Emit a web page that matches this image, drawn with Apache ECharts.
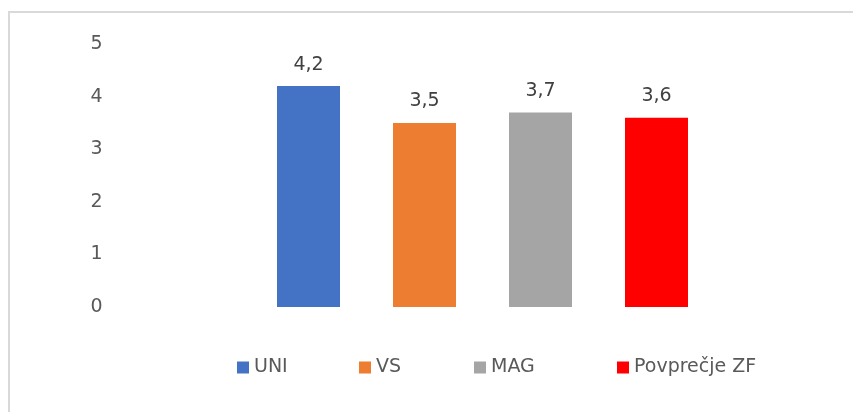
<!DOCTYPE html>
<html>
<head>
<meta charset="utf-8">
<script src="https://cdn.jsdelivr.net/npm/echarts@6/dist/echarts.min.js"></script>
<style>
  html, body { margin: 0; padding: 0; background: #fff; }
  #chart { width: 853px; height: 412px; }
</style>
</head>
<body>
<div id="chart"></div>
<script>
// data
var categories = ['UNI', 'VS', 'MAG', 'Povprečje ZF'];
var values = [4.2, 3.5, 3.7, 3.6];
var colors = ['#4472c4', '#ed7d31', '#a5a5a5', '#ff0000'];
var yTicks = [0, 1, 2, 3, 4, 5];

// legend entries are spaced like the original (Excel) layout
var legendLeft = [232, 354, 469, 612];

var myChart = echarts.init(document.getElementById('chart'));

var series = categories.map(function (name, i) {
    var d = categories.map(function (c, j) { return j === i ? values[i] : '-'; });
    return {
        name: name,
        type: 'bar',
        stack: 'all',
        barWidth: 63,
        itemStyle: { color: colors[i] },
        label: {
            show: true,
            position: 'top',
            distance: 12,
            color: '#404040',
            fontSize: 19,
            fontFamily: 'DejaVu Sans',
            formatter: function (p) { return String(p.value).replace('.', ','); }
        },
        data: d
    };
});

var legends = categories.map(function (name, i) {
    return {
        left: legendLeft[i],
        top: 353,
        icon: 'rect',
        itemWidth: 12,
        itemHeight: 12,
        itemGap: 6,
        textStyle: { color: '#595959', fontSize: 19, fontFamily: 'DejaVu Sans' },
        data: [name]
    };
});

var option = {
    animation: false,
    graphic: [{
        type: 'rect',
        shape: { x: 9, y: 12, width: 1000, height: 1000 },
        style: { fill: 'none', stroke: '#d9d9d9', lineWidth: 2 }
    }],
    legend: legends,
    grid: { left: 250.5, right: 138.5, top: 44, bottom: 105 },
    xAxis: {
        type: 'category',
        data: categories,
        axisLine: { show: false },
        axisTick: { show: false },
        axisLabel: { show: false }
    },
    yAxis: {
        type: 'value',
        min: yTicks[0],
        max: yTicks[yTicks.length - 1],
        interval: 1,
        axisLine: { show: false },
        axisTick: { show: false },
        splitLine: { show: false },
        axisLabel: { margin: 148, color: '#595959', fontSize: 19, fontFamily: 'DejaVu Sans' }
    },
    series: series
};
myChart.setOption(option);
</script>
</body>
</html>
